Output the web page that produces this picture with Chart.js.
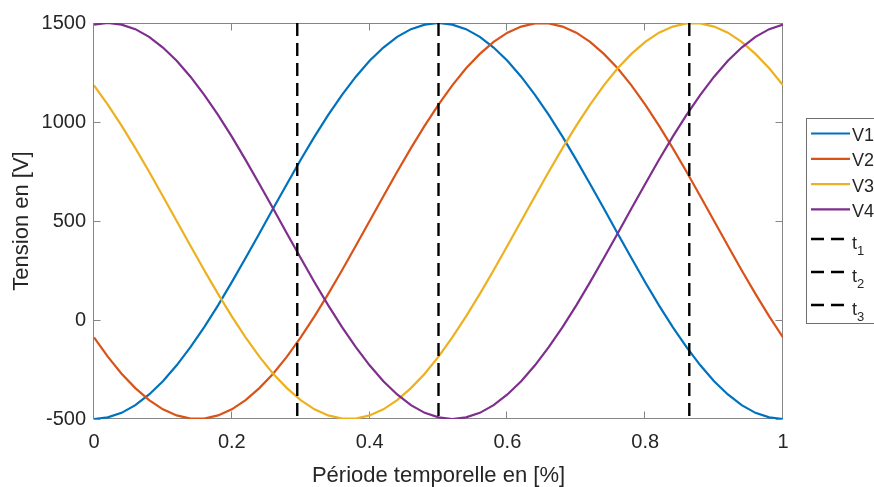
<!DOCTYPE html>
<html>
<head>
<meta charset="utf-8">
<title>Tension</title>
<script src="https://cdn.jsdelivr.net/npm/chart.js@4.4.0/dist/chart.umd.min.js"></script>
<style>
  html, body { margin: 0; padding: 0; background: #fff; }
  #wrap { width: 874px; height: 487px; overflow: hidden; }
</style>
</head>
<body>
<div id="wrap"><canvas id="chartTension" width="874" height="487"></canvas></div>
<script>
// values
const sampleX = [0, 0.02, 0.04, 0.06, 0.08, 0.1, 0.12, 0.14, 0.16, 0.18, 0.2, 0.22, 0.24, 0.26, 0.28, 0.3, 0.32, 0.34, 0.36, 0.38, 0.4, 0.42, 0.44, 0.46, 0.48, 0.5, 0.52, 0.54, 0.56, 0.58, 0.6, 0.62, 0.64, 0.66, 0.68, 0.7, 0.72, 0.74, 0.76, 0.78, 0.8, 0.82, 0.84, 0.86, 0.88, 0.9, 0.92, 0.94, 0.96, 0.98, 1];
const v1 = [-500, -492, -469, -430, -376, -309, -229, -137, -36, 74, 191, 313, 437, 563, 687, 809, 926, 1036, 1137, 1229, 1309, 1376, 1430, 1469, 1492, 1500, 1492, 1469, 1430, 1376, 1309, 1229, 1137, 1036, 926, 809, 687, 563, 437, 313, 191, 74, -36, -137, -229, -309, -376, -430, -469, -492, -500];
const v2 = [-88, -185, -271, -344, -405, -451, -482, -498, -498, -482, -451, -405, -344, -271, -185, -88, 18, 132, 251, 375, 500, 625, 749, 868, 982, 1088, 1185, 1271, 1344, 1405, 1451, 1482, 1498, 1498, 1482, 1451, 1405, 1344, 1271, 1185, 1088, 982, 868, 749, 625, 500, 375, 251, 132, 18, -88];
const v3 = [1185, 1088, 982, 868, 749, 625, 500, 375, 251, 132, 18, -88, -185, -271, -344, -405, -451, -482, -498, -498, -482, -451, -405, -344, -271, -185, -88, 18, 132, 251, 375, 500, 625, 749, 868, 982, 1088, 1185, 1271, 1344, 1405, 1451, 1482, 1498, 1498, 1482, 1451, 1405, 1344, 1271, 1185];
const v4 = [1492, 1500, 1492, 1469, 1430, 1376, 1309, 1229, 1137, 1036, 926, 809, 687, 563, 437, 313, 191, 74, -36, -137, -229, -309, -376, -430, -469, -492, -500, -492, -469, -430, -376, -309, -229, -137, -36, 74, 191, 313, 437, 563, 687, 809, 926, 1036, 1137, 1229, 1309, 1376, 1430, 1469, 1492];
const seriesNames = ['V1', 'V2', 'V3', 'V4'];
const cutTimes = [0.295, 0.5, 0.864];
const cutNames = ['t_1', 't_2', 't_3'];
const xTicks = [0, 0.2, 0.4, 0.6, 0.8, 1];
const yTicks = [-500, 0, 500, 1000, 1500];
const yRange = [-500, 1500];

const FONT = "'Liberation Sans', Arial, sans-serif";
const TEXT = '#262626';
const AXIS = '#858585';
const COLORS = ['#0072BD', '#D95319', '#EDB120', '#7E2F8E'];
const DASH = [13, 7];

Chart.defaults.font.family = FONT;

const seriesValues = [v1, v2, v3, v4];
const datasets = [];
seriesValues.forEach(function (vals, i) {
  datasets.push({
    label: seriesNames[i],
    data: sampleX.map(function (x, k) { return { x: x, y: vals[k] }; }),
    borderColor: COLORS[i],
    borderWidth: 2.2,
    pointRadius: 0,
    tension: 0,
    order: 10 - i,
  });
});
cutTimes.forEach(function (t, j) {
  datasets.push({
    label: cutNames[j],
    data: [{ x: t, y: yRange[1] }, { x: t, y: yRange[0] }],
    borderColor: '#000',
    borderWidth: 2.4,
    borderDash: DASH,
    pointRadius: 0,
    order: 3 - j,
  });
});

// box + inward ticks like a matlab axes
const axesBox = {
  id: 'axesBox',
  beforeDatasetsDraw(chart) {
    const { ctx, chartArea: a, scales } = chart;
    const L = Math.round(a.left) - 0.5, R = Math.round(a.right) - 0.5;
    const T = Math.round(a.top) + 0.5, B = Math.round(a.bottom) - 0.5;
    ctx.save();
    ctx.strokeStyle = AXIS;
    ctx.lineWidth = 1;
    ctx.strokeRect(L, T, R - L, B - T);
    ctx.beginPath();
    xTicks.forEach(function (v) {
      const px = Math.round(scales.x.getPixelForValue(v)) - 0.5;
      ctx.moveTo(px, B); ctx.lineTo(px, B - 7);
      ctx.moveTo(px, T); ctx.lineTo(px, T + 7);
    });
    yTicks.forEach(function (v) {
      const py = Math.round(scales.y.getPixelForValue(v)) + 0.5;
      ctx.moveTo(L, py); ctx.lineTo(L + 7, py);
      ctx.moveTo(R, py); ctx.lineTo(R - 7, py);
    });
    ctx.stroke();
    ctx.restore();
  },
};

const sideLegend = {
  id: 'sideLegend',
  afterDraw(chart) {
    const ctx = chart.ctx;
    const boxX = 806.5, boxY = 118.5, boxH = 205;
    ctx.save();
    ctx.fillStyle = '#fff';
    ctx.fillRect(boxX, boxY, 120, boxH);
    ctx.strokeStyle = '#6e6e6e';
    ctx.lineWidth = 1;
    ctx.strokeRect(boxX, boxY, 120, boxH);

    const x0 = 811, x1 = 850, tx = 852;
    ctx.fillStyle = TEXT;
    ctx.textBaseline = 'alphabetic';
    ctx.textAlign = 'left';

    seriesNames.forEach(function (name, i) {
      const y = 133.5 + 25.3 * i;
      ctx.strokeStyle = COLORS[i];
      ctx.lineWidth = 2.2;
      ctx.setLineDash([]);
      ctx.beginPath(); ctx.moveTo(x0, y); ctx.lineTo(x1, y); ctx.stroke();
      ctx.font = '18px ' + FONT;
      ctx.fillText(name, tx, y + 7.5);
    });

    cutNames.forEach(function (name, j) {
      const y = 239 + 33 * j;
      ctx.strokeStyle = '#000';
      ctx.lineWidth = 2.4;
      ctx.setLineDash(DASH);
      ctx.beginPath(); ctx.moveTo(x0, y); ctx.lineTo(x1, y); ctx.stroke();
      const parts = name.split('_');
      ctx.font = '18px ' + FONT;
      ctx.fillText(parts[0], tx, y + 10);
      const w = ctx.measureText(parts[0]).width;
      ctx.font = '13px ' + FONT;
      ctx.fillText(parts[1], tx + w, y + 16);
    });
    ctx.restore();
  },
};

new Chart(document.getElementById('chartTension'), {
  type: 'line',
  data: { datasets: datasets },
  plugins: [axesBox, sideLegend],
  options: {
    responsive: false,
    animation: false,
    layout: { padding: { top: 23, right: 91, left: 0, bottom: 0 } },
    plugins: { legend: { display: false }, tooltip: { enabled: false } },
    scales: {
      x: {
        type: 'linear',
        min: 0,
        max: 1,
        afterBuildTicks: function (s) { s.ticks = xTicks.map(function (v) { return { value: v }; }); },
        afterFit: function (s) { s.height = 68; },
        grid: { display: false, drawTicks: false },
        border: { display: false },
        ticks: {
          color: TEXT,
          font: { size: 20 },
          padding: 11,
          maxRotation: 0,
          autoSkip: false,
          callback: function (v) { return String(v); },
        },
        title: {
          display: true,
          text: 'Période temporelle en [%]',
          color: TEXT,
          font: { size: 22, lineHeight: 1 },
          padding: { top: 0, bottom: 0 },
        },
      },
      y: {
        min: yRange[0],
        max: yRange[1],
        afterBuildTicks: function (s) { s.ticks = yTicks.map(function (v) { return { value: v }; }); },
        afterFit: function (s) { s.width = 94; },
        grid: { display: false, drawTicks: false },
        border: { display: false },
        ticks: {
          color: TEXT,
          font: { size: 20 },
          padding: 8,
          autoSkip: false,
          callback: function (v) { return String(v); },
        },
        title: {
          display: true,
          text: 'Tension en [V]',
          color: TEXT,
          font: { size: 22, lineHeight: 1 },
          padding: { top: 11, bottom: 0 },
        },
      },
    },
  },
});
</script>
</body>
</html>
